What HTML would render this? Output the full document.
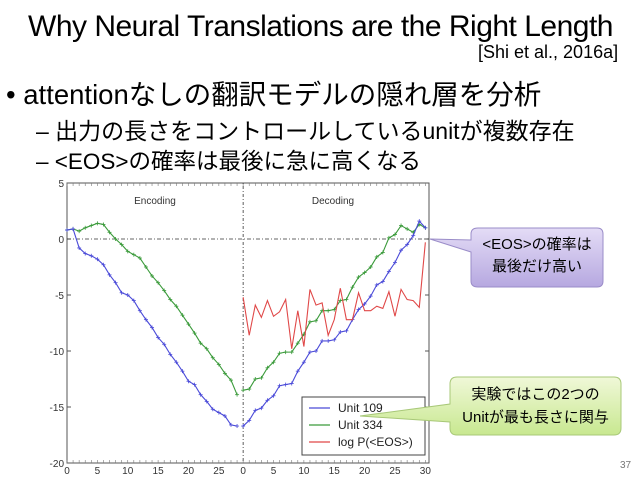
<!DOCTYPE html>
<html><head><meta charset="utf-8">
<style>
body{margin:0;width:638px;height:479px;background:#fff;overflow:hidden;position:relative;font-family:"Liberation Sans","Noto Sans CJK JP",sans-serif;color:#000}
.t{position:absolute;white-space:nowrap}
</style></head><body>
<div class="t" style="left:28px;top:10px;font-size:30px;letter-spacing:-0.5px">Why Neural Translations are the Right Length</div>
<div class="t" style="left:478px;top:42px;font-size:18px">[Shi et al., 2016a]</div>
<div class="t" style="left:6px;top:72px;font-size:27.5px">• attentionなしの翻訳モデルの隠れ層を分析</div>
<div class="t" style="left:36px;top:112px;font-size:23px">– 出力の長さをコントロールしているunitが複数存在</div>
<div class="t" style="left:36px;top:144px;font-size:22.5px">– &lt;EOS&gt;の確率は最後に急に高くなる</div>
<div class="t" style="left:620px;top:460px;font-size:10px;color:#777">37</div>
<svg id="chart" width="638" height="479" style="position:absolute;left:0;top:0" font-family="Liberation Sans, sans-serif"></svg>
<script>
const encBlue=[0.8,0.9,-0.8,-1.3,-1.5,-1.8,-2.3,-3.2,-3.9,-4.8,-5.0,-5.5,-6.4,-7.2,-7.9,-8.8,-9.4,-10.3,-11.0,-11.8,-12.7,-13.0,-13.9,-14.5,-15.2,-15.5,-15.8,-16.6,-16.7];
const decBlue=[-16.7,-16.2,-15.3,-15.1,-14.4,-14.0,-13.1,-13.0,-12.9,-11.8,-11.0,-10.1,-10.0,-9.1,-9.1,-9.0,-8.3,-8.2,-7.2,-6.3,-5.8,-5.1,-4.1,-3.8,-2.9,-2.1,-1.0,-0.5,0.3,1.6,1.0];
const encGreen=[0.8,0.9,0.7,1.0,1.2,1.4,1.3,0.6,0.0,-0.5,-1.1,-1.4,-1.7,-2.5,-3.3,-3.9,-4.6,-5.4,-6.0,-6.8,-7.6,-8.4,-9.3,-9.8,-10.6,-11.2,-12.0,-12.6,-13.9];
const decGreen=[-13.5,-13.4,-12.5,-12.4,-11.5,-11.0,-10.2,-10.1,-10.1,-9.3,-8.5,-7.4,-7.3,-6.4,-6.4,-6.3,-5.5,-5.4,-4.3,-3.4,-3.0,-2.5,-1.6,-1.2,0.1,0.4,1.2,0.9,0.6,1.3,1.0];
const decRed=[-5.2,-8.6,-5.9,-7.0,-5.5,-6.9,-6.5,-5.4,-9.8,-6.4,-9.6,-4.5,-5.9,-5.7,-8.6,-7.2,-4.4,-7.2,-7.2,-4.8,-6.4,-6.4,-6.0,-6.2,-4.7,-6.9,-4.5,-5.4,-5.5,-6.1,-0.3];
const yTicks=[5,0,-5,-10,-15,-20];
const encTicks=[0,5,10,15,20,25];
const decTicks=[0,5,10,15,20,25,30];
const DEC0=29;
const svg=document.getElementById('chart');const NS='http://www.w3.org/2000/svg';
const X0=67,X1=429,Y0=183,Y1=463;
const xs=v=>X0+(v/59.6)*(X1-X0);
const ys=v=>Y0+(5-v)/25*(Y1-Y0);
function mk(t,a,p){const e=document.createElementNS(NS,t);for(const k in a)e.setAttribute(k,a[k]);(p||svg).appendChild(e);return e;}
const frame=mk('rect',{x:X0,y:Y0,width:X1-X0,height:Y1-Y0,fill:'#fff',stroke:'#555','stroke-width':1});


yTicks.forEach(v=>{const t=mk('text',{x:X0-3,y:ys(v)+4,'text-anchor':'end','font-size':10,fill:'#333'});t.textContent=v;


mk('line',{x1:X0,x2:X0+4,y1:ys(v),y2:ys(v),stroke:'#555'});mk('line',{x1:X1,x2:X1-4,y1:ys(v),y2:ys(v),stroke:'#555'});});
for(let i=0;i<60;i++){mk('line',{x1:xs(i),x2:xs(i),y1:Y0,y2:Y0+3,stroke:'#777','stroke-width':0.6});mk('line',{x1:xs(i),x2:xs(i),y1:Y1,y2:Y1-3,stroke:'#777','stroke-width':0.6});}
encTicks.forEach(v=>{const t=mk('text',{x:xs(v),y:Y1+11,'text-anchor':'middle','font-size':10,fill:'#333'});t.textContent=v;

});
decTicks.forEach(v=>{const t=mk('text',{x:xs(v+DEC0),y:Y1+11,'text-anchor':'middle','font-size':10,fill:'#333'});t.textContent=v;

});
mk('line',{x1:X0,x2:X1,y1:ys(0),y2:ys(0),stroke:'#333','stroke-dasharray':'4,2,1,2','stroke-width':0.8});
mk('line',{x1:xs(DEC0),x2:xs(DEC0),y1:Y0,y2:Y1,stroke:'#333','stroke-dasharray':'1,2,3,2','stroke-width':0.8});
let t1=mk('text',{x:155,y:204,'text-anchor':'middle','font-size':10,fill:'#333'});t1.textContent='Encoding';


let t2=mk('text',{x:333,y:204,'text-anchor':'middle','font-size':10,fill:'#333'});t2.textContent='Decoding';


function series(arr,off,col,name,marker){const pts=arr.map((v,i)=>[xs(i+off),ys(v)]);
const pl=mk('polyline',{points:pts.map(p=>p.join(',')).join(' '),fill:'none',stroke:col,'stroke-width':1.1});


if(marker)pts.forEach(p=>{mk('line',{x1:p[0]-2,x2:p[0]+2,y1:p[1],y2:p[1],stroke:col,'stroke-width':0.8});mk('line',{x1:p[0],x2:p[0],y1:p[1]-2,y2:p[1]+2,stroke:col,'stroke-width':0.8});});}
series(encGreen,0,'#3a9a3a','unit-334-encoding',1);series(decGreen,DEC0,'#3a9a3a','unit-334-decoding',1);
series(encBlue,0,'#4a4ad8','unit-109-encoding',1);series(decBlue,DEC0,'#4a4ad8','unit-109-decoding',1);
series(decRed,DEC0,'#e04848','log-p-eos',0);
const lg=mk('g',{});
mk('rect',{x:302,y:397,width:123,height:58,fill:'#fff',stroke:'#444'},lg);
[['Unit 109','#4a4ad8'],['Unit 334','#3a9a3a'],['log P(<EOS>)','#e04848']].forEach((e,i)=>{const y=408+i*17;
mk('line',{x1:309,x2:330,y1:y,y2:y,stroke:e[1],'stroke-width':1.2},lg);
const t=mk('text',{x:338,y:y+4,'font-size':12,fill:'#222'},lg);t.textContent=e[0];

});
</script>
<svg width="638" height="479" style="position:absolute;left:0;top:0">
<defs>
<linearGradient id="gp" x1="0" y1="0" x2="0" y2="1"><stop offset="0" stop-color="#e4dcf6"/><stop offset="1" stop-color="#b6a8e0"/></linearGradient>
<linearGradient id="gg" x1="0" y1="0" x2="0" y2="1"><stop offset="0" stop-color="#f0f8d8"/><stop offset="1" stop-color="#c8e890"/></linearGradient>
</defs>
<path d="M478,228 H597 Q603,228 603,234 V281 Q603,287 597,287 H478 Q471,287 471,281 V252 L430,239 L471,240 V234 Q471,228 478,228 Z" fill="url(#gp)" stroke="#9a8cc8"/>
<path d="M457,377 H614 Q621,377 621,384 V428 Q621,435 614,435 H457 Q450,435 450,428 V422 L360,416 L450,404 V384 Q450,377 457,377 Z" fill="url(#gg)" stroke="#a8c878"/>
</svg>
<div class="t" style="left:471px;top:234px;width:132px;text-align:center;font-size:15px;line-height:22px">&lt;EOS&gt;の確率は<br>最後だけ高い</div>
<div class="t" style="left:450px;top:383px;width:171px;text-align:center;font-size:15px;line-height:23px">実験ではこの2つの<br>Unitが最も長さに関与</div>
</body></html>
